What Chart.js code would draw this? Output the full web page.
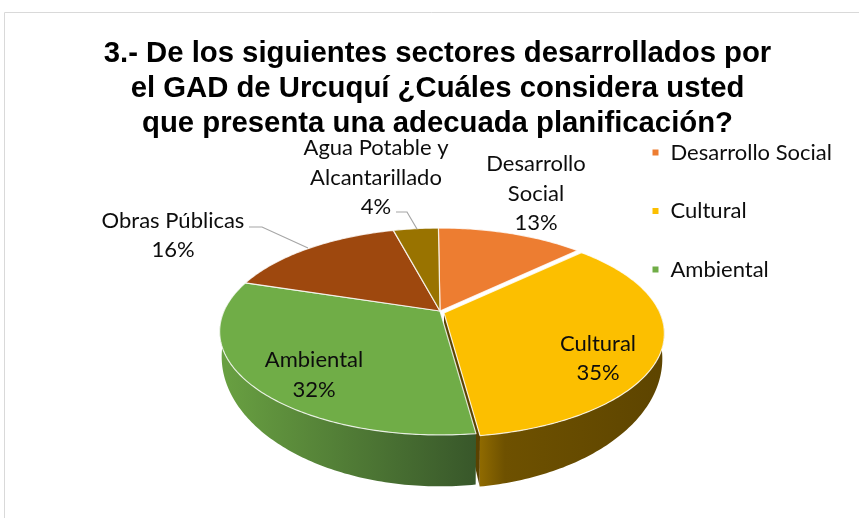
<!DOCTYPE html>
<html><head><meta charset="utf-8">
<style>html,body{margin:0;padding:0;background:#fff}#w{position:absolute;left:0;top:0;width:859px;height:518px}</style>
<script src="https://cdn.jsdelivr.net/npm/chart.js@4"></script>
</head><body><div id="w"><canvas id="c" width="859" height="518"></canvas></div>
<script>
const titleLines = ['3.- De los siguientes sectores desarrollados por','el GAD de Urcuquí ¿Cuáles considera usted','que presenta una adecuada planificación?'];
const categories = ['Desarrollo Social','Cultural','Ambiental','Obras Públicas','Agua Potable y Alcantarillado'];
const percents = [13,35,32,16,4];
const sliceColors = ['#ED7D31','#FCBF00','#70AD47','#9E480E','#997300'];
const legendCount = 3;

// style / layout, apart from the data
const PIE = {x:440,y:311,bx:216,ay:99.4,k:0.198, bottomY:331,bottomAy:124.6,bottomBx:214};
const explode = [[0,0],[4,2],[0,0],[0,0],[0,0]];
const sideStops = {1:[[0,'#8F6A00'],[0.14,'#6E5100'],[1,'#5E4500']],2:[[0,'#689F41'],[1,'#38572A']]};
const labelLayout = [
 {x:536,ys:[164,194,223],lines:['Desarrollo','Social']},
 {x:598,ys:[344,373],lines:['Cultural']},
 {x:314,ys:[360,390],lines:['Ambiental']},
 {x:173,ys:[221,250],lines:['Obras Públicas']},
 {x:376,ys:[148,178,207],lines:['Agua Potable y','Alcantarillado']}
];
const leaders = [[[249,227],[262,227],[308,248]],[[396,212],[407,212],[417,229]]];
const FONT = '22px Lato';
const LEGEND_POS = {left:615,top:105};

function topPt(a,o){const X=Math.cos(a),Y=Math.sin(a),w=1-PIE.k*Y;
  return [PIE.x+o[0]+PIE.bx*X/w, PIE.y+o[1]+PIE.ay*Y/w];}
function botPt(a,o){const X=Math.cos(a),Y=Math.sin(a),w=1-PIE.k*Y;
  return [PIE.x+o[0]+PIE.bottomBx*X/w, PIE.bottomY+o[1]+PIE.bottomAy*Y/w];}
function rim(ctx,f,a0,a1,o,first){const n=Math.max(2,Math.ceil(Math.abs(a1-a0)/0.015));
  for(let i=0;i<=n;i++){const p=f(a0+(a1-a0)*i/n,o);(first&&i===0)?ctx.moveTo(p[0],p[1]):ctx.lineTo(p[0],p[1]);}}

const pie3d = {
 id:'pie3d',
 afterLayout(chart){chart.legend.left=LEGEND_POS.left;chart.legend.top=LEGEND_POS.top;},
 beforeDraw(chart){const c=chart.ctx;c.save();c.strokeStyle='#d9d9d9';c.lineWidth=1;
   c.beginPath();c.moveTo(4.5,518);c.lineTo(4.5,12.5);c.lineTo(859,12.5);c.stroke();c.restore();},
 beforeDatasetsDraw(chart){
   const c=chart.ctx,arcs=chart.getDatasetMeta(0).data;
   c.save();
   // cut face of the pulled-out slice
   const y=arcs[1],oy=explode[1];
   const fa=topPt(y.endAngle,oy),fb=botPt(y.endAngle,oy);
   c.fillStyle='#5A4200';c.beginPath();
   c.moveTo(PIE.x+oy[0],PIE.y+oy[1]);c.lineTo(fa[0],fa[1]);c.lineTo(fb[0],fb[1]);c.lineTo(PIE.x+oy[0],PIE.bottomY+oy[1]);c.closePath();c.fill();
   // side walls
   [1,2].forEach(i=>{
     const s=arcs[i],o=explode[i];
     const lim0=i===1?Math.max(s.startAngle,-0.05):s.startAngle;
     const lim1=i===2?Math.min(s.endAngle,Math.PI+0.05):s.endAngle;
     const pa=topPt(lim0,o),pb=topPt(lim1,o);
     const g=c.createLinearGradient(pb[0],0,pa[0],0);
     sideStops[i].forEach(st=>g.addColorStop(st[0],st[1]));
     c.fillStyle=g;c.beginPath();
     rim(c,topPt,lim0,lim1,o,true);rim(c,botPt,lim1,lim0,o,false);c.closePath();c.fill();
   });
   // upper faces
   arcs.forEach((s,i)=>{
     const o=explode[i];
     c.beginPath();c.moveTo(PIE.x+o[0],PIE.y+o[1]);
     rim(c,topPt,s.startAngle,s.endAngle,o,false);c.closePath();
     c.fillStyle=sliceColors[i];c.fill();
     c.strokeStyle='rgba(255,255,255,0.8)';c.lineWidth=1.2;c.lineJoin='round';c.stroke();
   });
   c.restore();
   return false;
 },
 afterDraw(chart){
   const c=chart.ctx;c.save();
   c.strokeStyle='#a6a6a6';c.lineWidth=1.2;
   leaders.forEach(l=>{c.beginPath();l.forEach((p,i)=>i?c.lineTo(p[0],p[1]):c.moveTo(p[0],p[1]));c.stroke();});
   c.fillStyle='#0d0d0d';c.font=FONT;c.textAlign='center';c.textBaseline='middle';
   labelLayout.forEach((l,i)=>{
     const t=l.lines.concat([percents[i]+'%']);
     t.forEach((s,j)=>c.fillText(s,l.x,l.ys[j]));
   });
   c.restore();
 }
};

new Chart(document.getElementById('c'),{
 type:'pie',
 data:{labels:categories,datasets:[{data:percents,backgroundColor:sliceColors,borderColor:'#fff',rotation:-0.5}]},
 plugins:[pie3d],
 options:{
  responsive:false,animation:false,
  layout:{padding:{left:16,top:32,right:0,bottom:0}},
  plugins:{
   tooltip:{enabled:false},
   title:{display:true,text:titleLines,color:'#000',font:{family:'Liberation Sans',size:29.3,weight:'bold',lineHeight:1.18},padding:{top:5,bottom:0}},
   legend:{display:true,position:'right',align:'start',
     labels:{color:'#0d0d0d',font:{family:'Lato',size:22},boxWidth:8,boxHeight:8,padding:36.5,
       filter:(it)=>it.index<legendCount}}
  }
 }
});
</script></body></html>
